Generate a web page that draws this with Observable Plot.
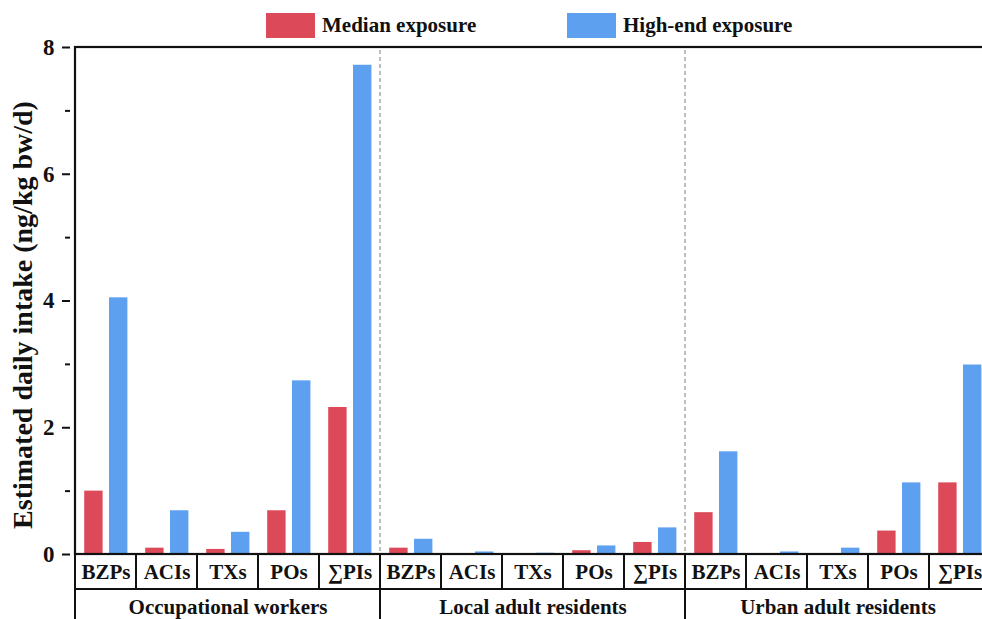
<!DOCTYPE html>
<html>
<head>
<meta charset="utf-8">
<script src="https://cdn.jsdelivr.net/npm/d3@7"></script>
<script src="https://cdn.jsdelivr.net/npm/@observablehq/plot@0.6"></script>
<style>
  html, body { margin: 0; padding: 0; background: white; overflow: hidden; }
  #wrap { position: relative; width: 994px; height: 619px; font-family: "Liberation Serif", "Times New Roman", serif; }
  #main { position: absolute; left: 0; top: 0; }
  #labels { position: absolute; left: 0; top: 544px; }
  .legend { position: absolute; top: 13px; height: 25px; display: flex; align-items: center; font-weight: bold; font-size: 21px; color: #111; white-space: nowrap; }
  .legend .sw { width: 49px; height: 25px; margin-right: 7px; }
</style>
</head>
<body>
<div id="wrap">
  <div id="main"></div>
  <div id="labels"></div>
  <div class="legend" id="leg0" style="left:266px"><span class="sw"></span><span class="lt"></span></div>
  <div class="legend" id="leg1" style="left:567px"><span class="sw"></span><span class="lt"></span></div>
</div>
<script>
const groups = ["Occupational workers", "Local adult residents", "Urban adult residents"];
const categories = ["BZPs", "ACIs", "TXs", "POs", "∑PIs"];
const seriesNames = ["Median exposure", "High-end exposure"];
const seriesColors = ["#dc4a5a", "#5ca0ef"];
// values per group, in category order
const medianExposure = [1.00, 0.10, 0.08, 0.69, 2.32,  0.10, 0.004, 0.004, 0.06, 0.19,  0.66, 0.004, 0.004, 0.37, 1.13];
const highEndExposure = [4.05, 0.69, 0.35, 2.74, 7.72,  0.24, 0.04, 0.02, 0.135, 0.42,  1.62, 0.04, 0.10, 1.13, 2.99];
const yTicks = [0, 2, 4, 6, 8];
const yMinorTicks = [1, 3, 5, 7];
const yTitle = "Estimated daily intake (ng/kg bw/d)";

const FONT = '"Liberation Serif", "Times New Roman", serif';

const rows = groups.flatMap((g, gi) => categories.map((c, ci) => ({
  key: g + "|" + c, group: g, cat: c,
  median: medianExposure[gi * categories.length + ci],
  high: highEndExposure[gi * categories.length + ci]
})));
const keys = rows.map(d => d.key);
const spans = groups.map(g => ({
  group: g,
  first: g + "|" + categories[0],
  last: g + "|" + categories[categories.length - 1],
  mid: g + "|" + categories[Math.floor(categories.length / 2)]
}));

const main = Plot.plot({
  width: 994, height: 562,
  marginTop: 47, marginBottom: 8, marginLeft: 70, marginRight: 0,
  style: {maxWidth: "none", background: "white", fontFamily: FONT, overflow: "visible", color: "#111"},
  x: {type: "band", domain: keys, padding: 0, axis: null},
  y: {domain: [0, 8], label: null},
  marks: [
    Plot.rect(spans, {x1: "first", x2: "last", stroke: "#a8a8a8", strokeWidth: 1, strokeDasharray: "4,3", fill: "none"}),
    Plot.barY(rows, {x: "key", y: "median", fill: seriesColors[0], insetLeft: 9.2, insetRight: 33.4}),
    Plot.barY(rows, {x: "key", y: "high", fill: seriesColors[1], insetLeft: 34, insetRight: 8.6}),
    Plot.rect([{}], {x1: () => keys[0], x2: () => keys[keys.length - 1], stroke: "#111", strokeWidth: 2.2, fill: "none"}),
    Plot.axisY({ticks: yMinorTicks, tickSize: 5, tickFormat: () => "", strokeWidth: 2, label: null}),
    Plot.axisY({ticks: yTicks, tickSize: 8, tickPadding: 8, fontSize: 23, fontWeight: "bold", strokeWidth: 2, label: null}),
    Plot.text([yTitle], {text: d => d, frameAnchor: "left", textAnchor: "middle", lineAnchor: "middle", rotate: -90, dx: -47, dy: 14, fontSize: 28, fontWeight: "bold"})
  ]
});
document.getElementById("main").appendChild(main);

const labels = Plot.plot({
  width: 994, height: 90,
  marginTop: 10, marginBottom: 0, marginLeft: 70, marginRight: 0,
  style: {maxWidth: "none", background: "transparent", fontFamily: FONT, overflow: "visible", color: "#111"},
  x: {type: "band", domain: keys, padding: 0, axis: null},
  marks: [
    Plot.cell(rows, {x: "key", stroke: "#111", strokeWidth: 2, fill: "none", insetBottom: 45}),
    Plot.rect(spans, {x1: "first", x2: "last", stroke: "#111", strokeWidth: 2, fill: "none", insetTop: 35}),
    Plot.text(rows, {x: "key", text: "cat", frameAnchor: "top", lineAnchor: "middle", dy: 18, fontSize: 21, fontWeight: "bold"}),
    Plot.text(spans, {x: "mid", text: "group", frameAnchor: "top", lineAnchor: "middle", dy: 53, fontSize: 21, fontWeight: "bold"})
  ]
});
document.getElementById("labels").appendChild(labels);

seriesNames.forEach((name, i) => {
  const el = document.getElementById("leg" + i);
  el.querySelector(".sw").style.background = seriesColors[i];
  el.querySelector(".lt").textContent = name;
});
</script>
</body>
</html>
